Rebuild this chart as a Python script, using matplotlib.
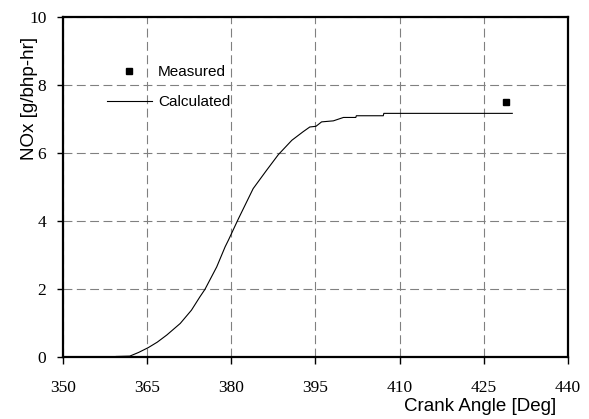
import matplotlib
matplotlib.use('Agg')
import matplotlib.pyplot as plt

# calculated NOx curve
crank_angle = [359.5, 361.9, 363.5, 365.2, 366.8, 368.5, 370.9, 372.9, 374.4, 375.3,
               377.4, 378.9, 379.5, 381.2, 383.9, 386.3, 388.4, 390.8, 392.8, 394.0,
               395.1, 396.1, 398.2, 400.0, 402.2, 402.3, 407.1, 407.2, 430.1]
nox_calc = [0.03, 0.04, 0.15, 0.29, 0.45, 0.66, 1.0, 1.39, 1.78, 2.0,
            2.66, 3.25, 3.45, 4.05, 4.96, 5.5, 5.96, 6.38, 6.63, 6.77,
            6.79, 6.92, 6.95, 7.05, 7.05, 7.1, 7.1, 7.17, 7.17]

# measured value
meas_angle = [428.9]
meas_nox = [7.5]

xticks = [350, 365, 380, 395, 410, 425, 440]
yticks = [0, 2, 4, 6, 8, 10]

fig = plt.figure(figsize=(5.89, 4.19), dpi=100)
ax = fig.add_axes([0.107, 0.1468, 0.857, 0.8126])

ax.plot(meas_angle, meas_nox, 's', color='black', markersize=5, label='Measured')
ax.plot(crank_angle, nox_calc, '-', color='black', linewidth=0.8, label='Calculated')

ax.set_xlim(350, 440)
ax.set_ylim(0, 10)
ax.set_xticks(xticks)
ax.set_yticks(yticks)
ax.grid(True, color='#808080', linewidth=0.8, linestyle=(0, (8, 4)))
ax.set_axisbelow(True)

for s in ax.spines.values():
    s.set_linewidth(1.6)
ax.tick_params(axis='y', direction='out', length=4, width=1, pad=8)
ax.tick_params(axis='x', direction='out', length=5, width=1, pad=11)
for lab in ax.get_xticklabels() + ax.get_yticklabels():
    lab.set_fontfamily('Liberation Serif')
    lab.set_fontsize(12.5)

ax.text(-0.066, 0.761, 'NOx [g/bhp-hr]', transform=ax.transAxes, rotation=90,
        ha='center', va='center', fontsize=13.5, family='Liberation Sans')
ax.text(0.978, -0.145, 'Crank Angle [Deg]', transform=ax.transAxes,
        ha='right', va='center', fontsize=13.5, family='Liberation Sans')

leg = ax.legend(loc='upper left', bbox_to_anchor=(0.087, 0.858), frameon=False,
                borderpad=0, borderaxespad=0, handlelength=2.95, handletextpad=0.4,
                labelspacing=1.05, prop={'family': 'Liberation Sans', 'size': 11})

fig.savefig('out.png', dpi=100)
